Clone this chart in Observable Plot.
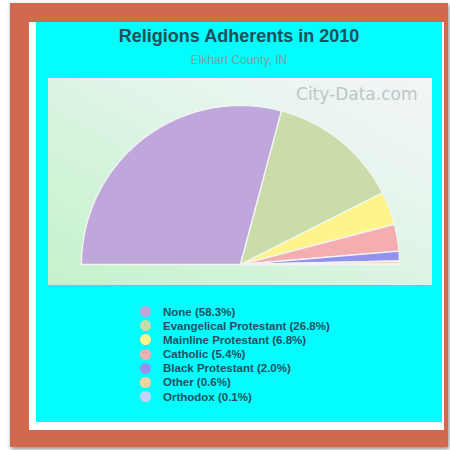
<!DOCTYPE html>
<html>
<head>
<meta charset="utf-8">
<script src="https://cdn.jsdelivr.net/npm/d3@7"></script>
<script src="https://cdn.jsdelivr.net/npm/@observablehq/plot@0.6"></script>
<style>
  html, body { margin: 0; padding: 0; background: #ffffff; width: 450px; height: 450px; overflow: hidden; font-family: "Liberation Sans", Arial, sans-serif; }
  .abs { position: absolute; }
  #frame { left: 10px; top: 3px; width: 438px; height: 444px; background: #d2684e; box-shadow: 1px 2px 4px rgba(0,0,0,0.45); }
  #paper { left: 29px; top: 22px; width: 415px; height: 408px; background: #ffffff; }
  #panel { left: 36px; top: 22px; width: 406px; height: 400px; background: #03fcfc; }
  #title { left: 36px; top: 27px; width: 406px; text-align: center; font-size: 18px; line-height: 18px; font-weight: bold; color: #1f4f5b; }
  #subtitle { left: 36px; top: 54px; width: 406px; text-align: center; font-size: 12px; line-height: 12px; color: #7fa0a2; }
  #chart { left: 48px; top: 78px; }
  #legend { left: 140px; top: 304.5px; }
  .row { display: flex; align-items: center; height: 14.17px; }
  .dot { width: 11px; height: 11px; border-radius: 50%; margin-right: 12px; flex: none; }
  .lab { font-size: 11.5px; font-weight: bold; color: #1f5060; white-space: nowrap; }
</style>
</head>
<body>
<div id="frame" class="abs"></div>
<div id="paper" class="abs"></div>
<div id="panel" class="abs"></div>
<div id="title" class="abs">Religions Adherents in 2010</div>
<div id="subtitle" class="abs">Elkhart County, IN</div>
<div id="chart" class="abs"></div>
<div id="legend" class="abs"></div>
<script>
const categories = ["None", "Evangelical Protestant", "Mainline Protestant", "Catholic", "Black Protestant", "Other", "Orthodox"];
const shares = [58.3, 26.8, 6.8, 5.4, 2.0, 0.6, 0.1];
const colors = ["#c0a7db", "#c9dcaa", "#fdf58c", "#f5aeb0", "#9393ef", "#fdd29c", "#c4d2f7"];
const watermark = "City-Data.com";

// Build half-pie slice outlines (angles from PI on the left to 0 on the right)
const total = d3.sum(shares);
const rows = [];
let acc = 0;
shares.forEach((v, i) => {
  const a0 = Math.PI * (1 - acc / total);
  acc += v;
  const a1 = Math.PI * (1 - acc / total);
  const n = Math.max(2, Math.ceil((a0 - a1) / (Math.PI / 360)));
  rows.push({cat: categories[i], x: 0, y: 0});
  for (let k = 0; k <= n; k++) {
    const a = a0 + (a1 - a0) * k / n;
    rows.push({cat: categories[i], x: Math.cos(a), y: Math.sin(a)});
  }
});

const chart = Plot.plot({
  width: 384,
  height: 207,
  marginLeft: 33,
  marginRight: 33,
  marginTop: 27,
  marginBottom: 21,
  x: {axis: null, domain: [-1, 1]},
  y: {axis: null, domain: [0, 1]},
  color: {type: "ordinal", domain: categories, range: colors},
  style: {background: "linear-gradient(to top right, #c4f2cb 0%, #d6f4de 40%, #e8f5ee 70%, #f2f5f6 100%)"},
  marks: [
    Plot.line(rows, {x: "x", y: "y", z: "cat", fill: "cat", stroke: "#f4f4f4", strokeWidth: 1.3, curve: "linear-closed"}),
    Plot.text([watermark], {frameAnchor: "top-right", dx: 18, dy: -18, fontSize: 17, fill: "#bcc7c8", fontFamily: "DejaVu Sans", textAnchor: "end"})
  ]
});
document.getElementById("chart").appendChild(chart);

const legend = document.getElementById("legend");
categories.forEach((c, i) => {
  const row = document.createElement("div");
  row.className = "row";
  const dot = document.createElement("div");
  dot.className = "dot";
  dot.style.background = colors[i];
  const lab = document.createElement("div");
  lab.className = "lab";
  lab.textContent = `${c} (${shares[i].toFixed(1)}%)`;
  row.appendChild(dot);
  row.appendChild(lab);
  legend.appendChild(row);
});
</script>
</body>
</html>
